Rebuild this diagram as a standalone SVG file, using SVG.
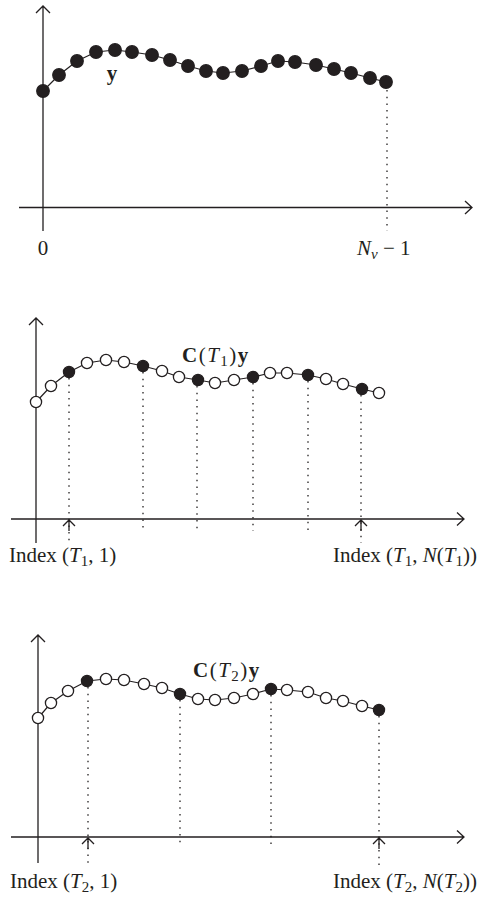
<svg xmlns="http://www.w3.org/2000/svg" width="484" height="898" viewBox="0 0 484 898">
<style>
.ax{stroke:#231f20;stroke-width:1.3;fill:none}
.cv{stroke:#231f20;stroke-width:1.2;fill:none}
.dt{stroke:#231f20;stroke-width:1.3;fill:none;stroke-dasharray:1.5 5.2}
.f{fill:#231f20;stroke:#231f20;stroke-width:1.2}
.o{fill:#fff;stroke:#231f20;stroke-width:1.3}
text{font-family:"Liberation Serif","Times New Roman",serif;font-size:21px;fill:#231f20}
.i{font-style:italic}
.b{font-weight:bold}
.s{font-size:15px}
.c{letter-spacing:1.5px}
</style>
<g id="connectors">
<!-- top panel -->
<path class="ax" d="M43,231 V6 M36,13 L43,6 L50,13"/>
<path class="ax" d="M19,207.5 H472 M465,201 L472,207.5 L465,214"/>
<path class="dt" d="M387,90 V231"/>
<polyline class="cv" points="43,91 59,75 77,61 96,52 115,50 132,52 152,55 170,60 188,66 206,71 223,73 242,71 261,66 278,61 295,62 316,65 334,69 351,73 370,78 386,82"/>
<!-- middle panel -->
<path class="ax" d="M36,543 V318 M29,325 L36,318 L43,325"/>
<path class="ax" d="M11,519 H464 M457,512.5 L464,519 L457,525.5"/>
<path class="dt" d="M69,378 V543 M143,372 V531 M197,386 V531 M253,383 V531 M308,381 V531 M361,395 V543"/>
<path class="ax" d="M69,531 V520 M63,526 L69,520 L75,526 M361,531 V520 M355,526 L361,520 L367,526"/>
<polyline class="cv" points="36,402 51,386 69,372 87,363 106,360 124,362 143,366 162,371 179,377 198,380 215,383 234,380 253,377 270,373 287,373 308,375 326,379 343,384 362,389 379,393"/>
<!-- bottom panel -->
<path class="ax" d="M38,863 V635 M31,642 L38,635 L45,642"/>
<path class="ax" d="M11,837 H464 M457,830.5 L464,837 L457,843.5"/>
<path class="dt" d="M88,687 V867 M180,700 V845 M271,695 V845 M379,716 V867"/>
<path class="ax" d="M88,849 V838 M82,844 L88,838 L94,844 M379,849 V838 M373,844 L379,838 L385,844"/>
<polyline class="cv" points="38,718 51,703 68,691 87,681 106,679 124,680 144,684 162,688 180,694 198,699 215,700 234,698 253,694 271,689 287,690 308,692 326,698 343,701 362,706 379,710"/>
</g>
<g id="top-dots">
<circle class="f" cx="43" cy="91" r="6.3"/><circle class="f" cx="59" cy="75" r="6.3"/><circle class="f" cx="77" cy="61" r="6.3"/><circle class="f" cx="96" cy="52" r="6.3"/><circle class="f" cx="115" cy="50" r="6.3"/><circle class="f" cx="132" cy="52" r="6.3"/><circle class="f" cx="152" cy="55" r="6.3"/><circle class="f" cx="170" cy="60" r="6.3"/><circle class="f" cx="188" cy="66" r="6.3"/><circle class="f" cx="206" cy="71" r="6.3"/><circle class="f" cx="223" cy="73" r="6.3"/><circle class="f" cx="242" cy="71" r="6.3"/><circle class="f" cx="261" cy="66" r="6.3"/><circle class="f" cx="278" cy="61" r="6.3"/><circle class="f" cx="295" cy="62" r="6.3"/><circle class="f" cx="316" cy="65" r="6.3"/><circle class="f" cx="334" cy="69" r="6.3"/><circle class="f" cx="351" cy="73" r="6.3"/><circle class="f" cx="370" cy="78" r="6.3"/><circle class="f" cx="386" cy="82" r="6.3"/>
</g>
<g id="mid-dots">
<circle class="o" cx="36" cy="402" r="5.6"/><circle class="o" cx="51" cy="386" r="5.6"/><circle class="f" cx="69" cy="372" r="5.6"/><circle class="o" cx="87" cy="363" r="5.6"/><circle class="o" cx="106" cy="360" r="5.6"/><circle class="o" cx="124" cy="362" r="5.6"/><circle class="f" cx="143" cy="366" r="5.6"/><circle class="o" cx="162" cy="371" r="5.6"/><circle class="o" cx="179" cy="377" r="5.6"/><circle class="f" cx="198" cy="380" r="5.6"/><circle class="o" cx="215" cy="383" r="5.6"/><circle class="o" cx="234" cy="380" r="5.6"/><circle class="f" cx="253" cy="377" r="5.6"/><circle class="o" cx="270" cy="373" r="5.6"/><circle class="o" cx="287" cy="373" r="5.6"/><circle class="f" cx="308" cy="375" r="5.6"/><circle class="o" cx="326" cy="379" r="5.6"/><circle class="o" cx="343" cy="384" r="5.6"/><circle class="f" cx="362" cy="389" r="5.6"/><circle class="o" cx="379" cy="393" r="5.6"/>
</g>
<g id="bot-dots">
<circle class="o" cx="38" cy="718" r="5.6"/><circle class="o" cx="51" cy="703" r="5.6"/><circle class="o" cx="68" cy="691" r="5.6"/><circle class="f" cx="87" cy="681" r="5.6"/><circle class="o" cx="106" cy="679" r="5.6"/><circle class="o" cx="124" cy="680" r="5.6"/><circle class="o" cx="144" cy="684" r="5.6"/><circle class="o" cx="162" cy="688" r="5.6"/><circle class="f" cx="180" cy="694" r="5.6"/><circle class="o" cx="198" cy="699" r="5.6"/><circle class="o" cx="215" cy="700" r="5.6"/><circle class="o" cx="234" cy="698" r="5.6"/><circle class="o" cx="253" cy="694" r="5.6"/><circle class="f" cx="271" cy="689" r="5.6"/><circle class="o" cx="287" cy="690" r="5.6"/><circle class="o" cx="308" cy="692" r="5.6"/><circle class="o" cx="326" cy="698" r="5.6"/><circle class="o" cx="343" cy="701" r="5.6"/><circle class="o" cx="362" cy="706" r="5.6"/><circle class="f" cx="379" cy="710" r="5.6"/>
</g>
<g id="labels">
<text class="b" x="112" y="80" text-anchor="middle">y</text>
<text x="43" y="255" text-anchor="middle">0</text>
<text x="357" y="255"><tspan class="i">N</tspan><tspan class="i s" dy="4">ν</tspan><tspan dy="-4"> − 1</tspan></text>
<text class="c" x="182" y="362"><tspan class="b">C</tspan>(<tspan class="i">T</tspan><tspan class="s" dy="4">1</tspan><tspan dy="-4">)</tspan><tspan class="b">y</tspan></text>
<text x="9" y="562">Index (<tspan class="i">T</tspan><tspan class="s" dy="4">1</tspan><tspan dy="-4">, 1)</tspan></text>
<text x="333" y="562">Index (<tspan class="i">T</tspan><tspan class="s" dy="4">1</tspan><tspan dy="-4">, </tspan><tspan class="i">N</tspan>(<tspan class="i">T</tspan><tspan class="s" dy="4">1</tspan><tspan dy="-4">))</tspan></text>
<text class="c" x="193" y="677"><tspan class="b">C</tspan>(<tspan class="i">T</tspan><tspan class="s" dy="4">2</tspan><tspan dy="-4">)</tspan><tspan class="b">y</tspan></text>
<text x="10" y="888">Index (<tspan class="i">T</tspan><tspan class="s" dy="4">2</tspan><tspan dy="-4">, 1)</tspan></text>
<text x="333" y="888">Index (<tspan class="i">T</tspan><tspan class="s" dy="4">2</tspan><tspan dy="-4">, </tspan><tspan class="i">N</tspan>(<tspan class="i">T</tspan><tspan class="s" dy="4">2</tspan><tspan dy="-4">))</tspan></text>
</g>
</svg>
